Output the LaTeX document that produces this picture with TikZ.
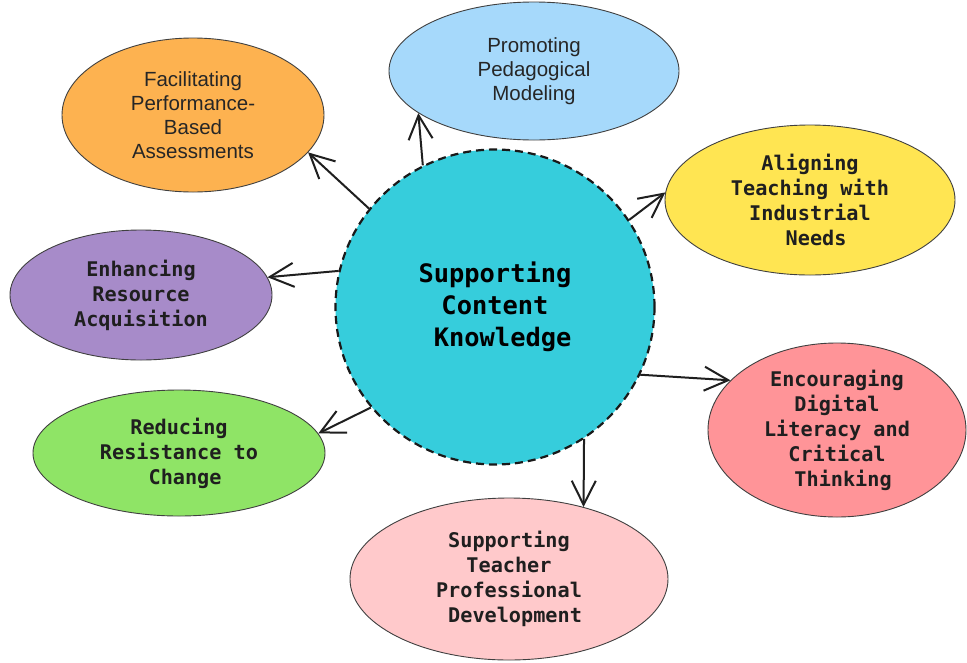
\documentclass[tikz,border=0pt]{standalone}
\usepackage{fontspec}
\setmainfont{Liberation Sans}
\newfontfamily\monof{DejaVu Sans Mono}
\usetikzlibrary{arrows.meta,shapes.geometric}
\definecolor{cyanC}{HTML}{36CDDC}
\definecolor{orangeC}{HTML}{FDB250}
\definecolor{blueC}{HTML}{A6D9FB}
\definecolor{yellowC}{HTML}{FFE552}
\definecolor{purpleC}{HTML}{A78BC9}
\definecolor{redC}{HTML}{FF9498}
\definecolor{greenC}{HTML}{8FE466}
\definecolor{pinkC}{HTML}{FFC9CB}
\newcommand{\lsp}{\hphantom{x}}
\begin{document}
\begin{tikzpicture}[x=1pt,y=-1pt,
  bub/.style={ellipse, draw=black!75, line width=0.9pt, inner sep=0pt, align=center, text=black!88},
  mono/.style={font=\monof\bfseries\fontsize{20.2}{25}\selectfont},
  sans/.style={font=\fontsize{20.5}{24}\selectfont, text=black!85},
  arr/.style={draw=black!88, line width=2pt, -{Straight Barb[length=24pt,width=24pt]}}]
\useasboundingbox (0,0) rectangle (967,662);
\fill[white] (0,0) rectangle (967,662);

\node[bub, sans, fill=orangeC, minimum width=262pt, minimum height=154pt] (fac) at (193,115)
  {Facilitating\\Performance-\\Based\\Assessments};
\node[bub, sans, fill=blueC, minimum width=290pt, minimum height=138pt] (pro) at (534,71)
  {Promoting\\Pedagogical\\Modeling};
\node[bub, mono, fill=yellowC, minimum width=290pt, minimum height=150pt] (ali) at (810,200)
  {Aligning\\Teaching with\\Industrial\\\lsp Needs};
\node[bub, mono, fill=purpleC, minimum width=262pt, minimum height=130pt] (enh) at (141,295)
  {Enhancing\\Resource\\Acquisition};
\node[bub, mono, fill=redC, minimum width=258pt, minimum height=174pt] (enc) at (837,430)
  {Encouraging\\Digital\\Literacy and\\Critical\\\lsp Thinking};
\node[bub, mono, fill=greenC, minimum width=292pt, minimum height=126pt] (red) at (179,453)
  {Reducing\\Resistance to\\\lsp Change};
\node[bub, mono, fill=pinkC, minimum width=318pt, minimum height=162pt] (spt) at (509,579)
  {Supporting\\Teacher\\Professional\\\lsp Development};

\node[ellipse, draw=black!90, line width=2.2pt, dash pattern=on 8pt off 5pt, fill=cyanC,
  minimum width=319pt, minimum height=315pt, inner sep=0pt, align=center,
  font=\monof\bfseries\fontsize{25.4}{32}\selectfont, text=black] (c) at (495,307)
  {Supporting\\Content\\\lsp Knowledge};

\draw[arr] (c.142.8) -- (fac.-18);
\draw[arr] (c.117.7) -- (pro.200);
\draw[arr] (c.33.6) -- (ali.177.6);
\draw[arr] (c.167.8) -- (enh.8.2);
\draw[arr] (c.-25.3) -- (enc.155);
\draw[arr] (c.219.4) -- (red.8);
\draw[arr] (c.-56.2) -- (spt.44.2);
\end{tikzpicture}
\end{document}
